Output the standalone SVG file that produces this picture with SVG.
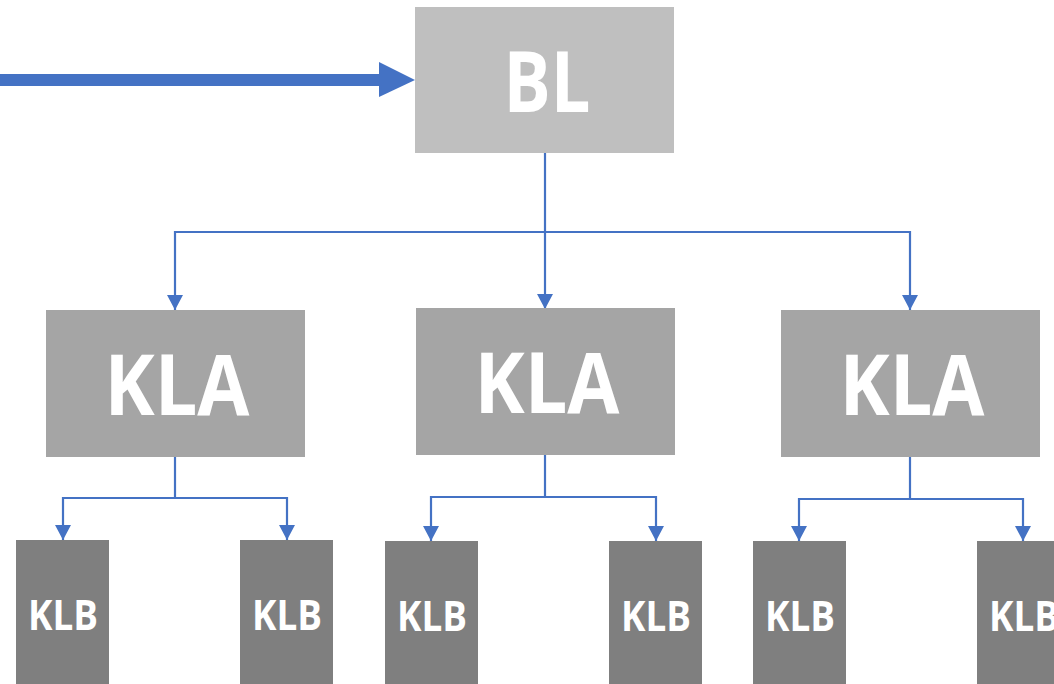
<svg xmlns="http://www.w3.org/2000/svg" width="1054" height="684" viewBox="0 0 1054 684">
<defs>
<marker id="ah" markerUnits="userSpaceOnUse" markerWidth="16" markerHeight="16" refX="15" refY="8" orient="auto">
<path d="M0,0 L15,8 L0,16 Z" fill="#4472C4"/>
</marker>
<style>
.c{fill:none;stroke:#4472C4;stroke-width:2.2}
.t{font-family:"Open Sans","Liberation Sans",sans-serif;font-weight:bold;fill:#FFFFFF;text-anchor:middle}
.bl{fill:#BFBFBF}
.kla{fill:#A5A5A5}
.klb{fill:#7F7F7F}
</style>
</defs>
<rect width="1054" height="684" fill="#FFFFFF"/>
<g id="connectors">
<line x1="0" y1="80" x2="381" y2="80" stroke="#4472C4" stroke-width="12"/>
<polygon points="379,62 415,80 379,97" fill="#4472C4"/>
<path class="c" d="M545,153 V309" marker-end="url(#ah)"/>
<path class="c" d="M545,232 H175 V310" marker-end="url(#ah)"/>
<path class="c" d="M545,232 H910 V310" marker-end="url(#ah)"/>
<path class="c" d="M175,457 V498 H63 V540" marker-end="url(#ah)"/>
<path class="c" d="M175,498 H287 V540" marker-end="url(#ah)"/>
<path class="c" d="M545,455 V497 H431 V541" marker-end="url(#ah)"/>
<path class="c" d="M545,497 H656 V541" marker-end="url(#ah)"/>
<path class="c" d="M910,457 V499 H799 V541" marker-end="url(#ah)"/>
<path class="c" d="M910,499 H1023 V541" marker-end="url(#ah)"/>
</g>
<g id="bl">
<rect class="bl" x="415" y="7" width="259" height="146"/>
<text class="t" x="547" y="112" font-size="84" textLength="87" lengthAdjust="spacingAndGlyphs">BL</text>
</g>
<g id="kla1">
<rect class="kla" x="46" y="310" width="259" height="147"/>
<text class="t" x="177" y="415" font-size="84" textLength="145" lengthAdjust="spacingAndGlyphs">KLA</text>
</g>
<g id="kla2">
<rect class="kla" x="416" y="308" width="259" height="147"/>
<text class="t" x="547" y="413" font-size="84" textLength="145" lengthAdjust="spacingAndGlyphs">KLA</text>
</g>
<g id="kla3">
<rect class="kla" x="781" y="310" width="259" height="147"/>
<text class="t" x="912" y="415" font-size="84" textLength="145" lengthAdjust="spacingAndGlyphs">KLA</text>
</g>
<g id="klb1">
<rect class="klb" x="16" y="540" width="93" height="144"/>
<text class="t" x="63" y="630" font-size="41" textLength="70" lengthAdjust="spacingAndGlyphs">KLB</text>
</g>
<g id="klb2">
<rect class="klb" x="240" y="540" width="93" height="144"/>
<text class="t" x="287" y="630" font-size="41" textLength="70" lengthAdjust="spacingAndGlyphs">KLB</text>
</g>
<g id="klb3">
<rect class="klb" x="385" y="541" width="93" height="143"/>
<text class="t" x="432" y="631" font-size="41" textLength="70" lengthAdjust="spacingAndGlyphs">KLB</text>
</g>
<g id="klb4">
<rect class="klb" x="609" y="541" width="93" height="143"/>
<text class="t" x="656" y="631" font-size="41" textLength="70" lengthAdjust="spacingAndGlyphs">KLB</text>
</g>
<g id="klb5">
<rect class="klb" x="753" y="541" width="93" height="143"/>
<text class="t" x="800" y="631" font-size="41" textLength="70" lengthAdjust="spacingAndGlyphs">KLB</text>
</g>
<g id="klb6">
<rect class="klb" x="977" y="541" width="93" height="143"/>
<text class="t" x="1024" y="631" font-size="41" textLength="70" lengthAdjust="spacingAndGlyphs">KLB</text>
</g>
</svg>
